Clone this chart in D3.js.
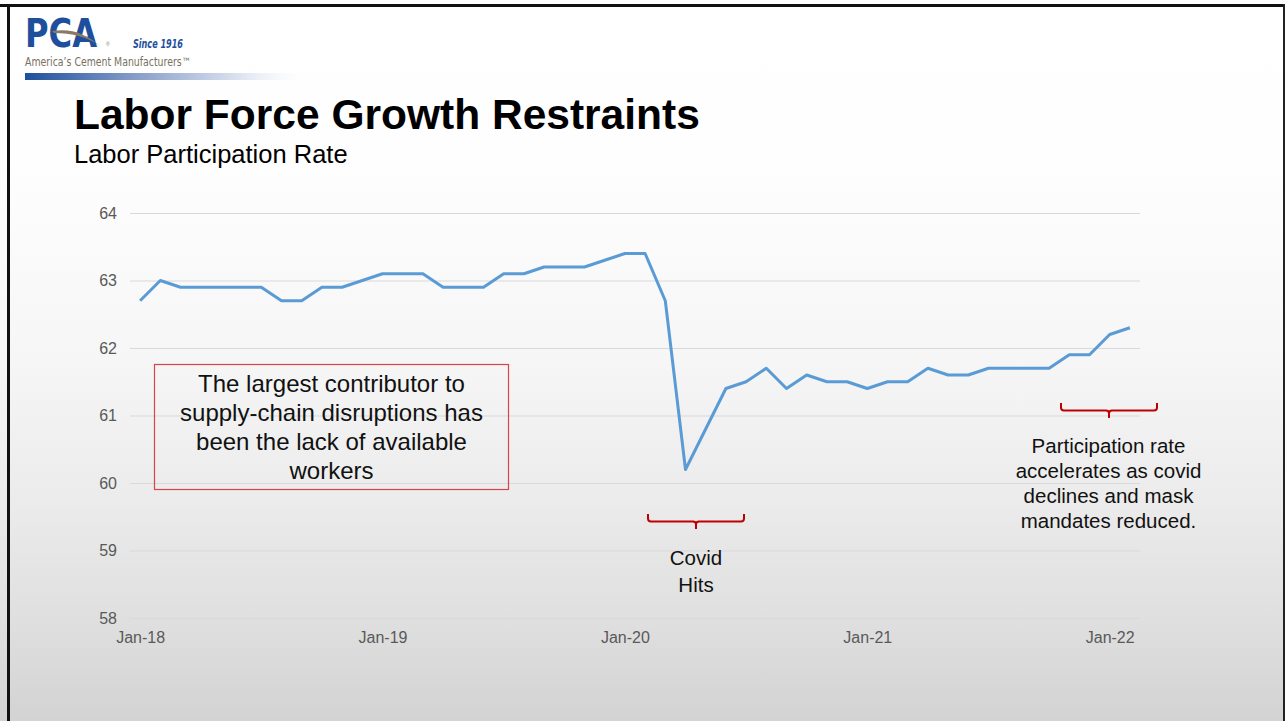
<!DOCTYPE html>
<html>
<head>
<meta charset="utf-8">
<script src="https://cdn.jsdelivr.net/npm/d3@7/dist/d3.min.js"></script>
<style>
  html, body { margin: 0; padding: 0; background: #ffffff; }
  svg { display: block; }
</style>
</head>
<body>
<svg id="slide" width="1285" height="721"></svg>
<script>
// Monthly labor force participation rate, Jan 2018 – Feb 2022 (%)
const months = [
  "Jan-18","Feb-18","Mar-18","Apr-18","May-18","Jun-18","Jul-18","Aug-18","Sep-18","Oct-18","Nov-18","Dec-18",
  "Jan-19","Feb-19","Mar-19","Apr-19","May-19","Jun-19","Jul-19","Aug-19","Sep-19","Oct-19","Nov-19","Dec-19",
  "Jan-20","Feb-20","Mar-20","Apr-20","May-20","Jun-20","Jul-20","Aug-20","Sep-20","Oct-20","Nov-20","Dec-20",
  "Jan-21","Feb-21","Mar-21","Apr-21","May-21","Jun-21","Jul-21","Aug-21","Sep-21","Oct-21","Nov-21","Dec-21",
  "Jan-22","Feb-22"
];
const participation = [
  62.7, 63.0, 62.9, 62.9, 62.9, 62.9, 62.9, 62.7, 62.7, 62.9, 62.9, 63.0,
  63.1, 63.1, 63.1, 62.9, 62.9, 62.9, 63.1, 63.1, 63.2, 63.2, 63.2, 63.3,
  63.4, 63.4, 62.7, 60.2, 60.8, 61.4, 61.5, 61.7, 61.4, 61.6, 61.5, 61.5,
  61.4, 61.5, 61.5, 61.7, 61.6, 61.6, 61.7, 61.7, 61.7, 61.7, 61.9, 61.9,
  62.2, 62.3
];
const xTickLabels = ["Jan-18","Jan-19","Jan-20","Jan-21","Jan-22"];
const yTicks = [58, 59, 60, 61, 62, 63, 64];

const title = "Labor Force Growth Restraints";
const subtitle = "Labor Participation Rate";
const boxNote = ["The largest contributor to", "supply-chain disruptions has", "been the lack of available", "workers"];
const covidNote = ["Covid", "Hits"];
const recoveryNote = ["Participation rate", "accelerates as covid", "declines and mask", "mandates reduced."];

const svg = d3.select("#slide");
const W = 1285, H = 721;
const font = "'Liberation Sans', Arial, Helvetica, sans-serif";
const narrow = "'Liberation Sans Narrow', 'DejaVu Sans Condensed', 'Liberation Sans', Arial, sans-serif";

// ---- background & frame ----
const defs = svg.append("defs");
const bg = defs.append("linearGradient").attr("id", "bgGrad").attr("x1", 0).attr("y1", 0).attr("x2", 0).attr("y2", 1);
[[0, "#ffffff"], [0.22, "#fefefe"], [0.5, "#f6f6f6"], [0.7, "#ebebeb"], [0.85, "#e0e0e0"], [1, "#d3d3d3"]]
  .forEach(([o, c]) => bg.append("stop").attr("offset", o).attr("stop-color", c));
svg.append("rect").attr("width", W).attr("height", H).attr("fill", "url(#bgGrad)");

svg.append("rect").attr("x", 0).attr("y", 4).attr("width", W).attr("height", 3).attr("fill", "#111");
svg.append("rect").attr("x", 7).attr("y", 4).attr("width", 3).attr("height", H - 4).attr("fill", "#111");
svg.append("rect").attr("x", W - 2).attr("y", 4).attr("width", 2).attr("height", H - 4).attr("fill", "#222");

// ---- logo block ----
const logoBar = defs.append("linearGradient").attr("id", "logoBar");
logoBar.append("stop").attr("offset", 0).attr("stop-color", "#1d4f9c");
logoBar.append("stop").attr("offset", 0.35).attr("stop-color", "#7f97c6");
logoBar.append("stop").attr("offset", 0.75).attr("stop-color", "#dfe5f1");
logoBar.append("stop").attr("offset", 1).attr("stop-color", "#ffffff").attr("stop-opacity", 0);
svg.append("rect").attr("x", 25).attr("y", 73).attr("width", 290).attr("height", 7).attr("fill", "url(#logoBar)");

svg.append("text").attr("x", 25).attr("y", 46.5)
  .attr("font-family", narrow).attr("font-weight", "bold").attr("font-size", 39)
  .attr("fill", "#1d4f9c").attr("textLength", 72).attr("lengthAdjust", "spacingAndGlyphs")
  .text("PCA");
svg.append("path")
  .attr("d", "M52,31 C72,28 86,34 100,46 C88,37 72,33 54,33 Z")
  .attr("fill", "#8a7a64");
svg.append("text").attr("x", 106).attr("y", 46).attr("font-family", font).attr("font-size", 5)
  .attr("fill", "#8a7a64").text("®");
svg.append("text").attr("x", 133).attr("y", 47.5)
  .attr("font-family", narrow).attr("font-weight", "bold").attr("font-style", "italic").attr("font-size", 13)
  .attr("fill", "#1d4f9c").attr("textLength", 50).attr("lengthAdjust", "spacingAndGlyphs")
  .text("Since 1916");
svg.append("text").attr("x", 25).attr("y", 65.5)
  .attr("font-family", narrow).attr("font-size", 11.5)
  .attr("fill", "#7a7062").attr("textLength", 166).attr("lengthAdjust", "spacingAndGlyphs")
  .text("America’s Cement Manufacturers™");

// ---- headings ----
svg.append("text").attr("x", 74).attr("y", 129)
  .attr("font-family", font).attr("font-weight", "bold").attr("font-size", 42.5).attr("fill", "#000")
  .text(title);
svg.append("text").attr("x", 74).attr("y", 163)
  .attr("font-family", font).attr("font-size", 25.5).attr("fill", "#000")
  .text(subtitle);

// ---- chart ----
const plot = { left: 130, right: 1140, top: 213, bottom: 618 };
const x = d3.scalePoint().domain(months).range([plot.left, plot.right]).padding(0.5);
const y = d3.scaleLinear().domain([58, 64]).range([plot.bottom, plot.top]);

// gridlines
svg.append("g")
  .attr("transform", `translate(${plot.left},0)`)
  .call(d3.axisLeft(y).tickValues(yTicks).tickSize(-(plot.right - plot.left)).tickFormat(""))
  .call(g => g.select(".domain").remove())
  .call(g => g.selectAll("line").attr("stroke", "#d9d9d9").attr("stroke-width", 1));

// y tick labels
svg.append("g")
  .attr("transform", `translate(117,0)`)
  .call(d3.axisLeft(y).tickValues(yTicks).tickSize(0).tickPadding(0).tickFormat(d3.format("d")))
  .call(g => g.select(".domain").remove())
  .call(g => g.selectAll("text").attr("font-family", font).attr("font-size", 16).attr("fill", "#595959"));

// x tick labels
svg.append("g")
  .attr("transform", `translate(0,${plot.bottom + 14})`)
  .call(d3.axisBottom(x).tickValues(xTickLabels).tickSize(0).tickPadding(0))
  .call(g => g.select(".domain").remove())
  .call(g => g.selectAll("text").attr("font-family", font).attr("font-size", 16).attr("fill", "#595959"));

// series line
const line = d3.line().x((d, i) => x(months[i])).y(d => y(d));
svg.append("path")
  .datum(participation)
  .attr("d", line)
  .attr("fill", "none")
  .attr("stroke", "#5b9bd5")
  .attr("stroke-width", 3)
  .attr("stroke-linejoin", "round");

// ---- annotations ----
svg.append("rect").attr("x", 154.5).attr("y", 364.5).attr("width", 354).attr("height", 125)
  .attr("fill", "none").attr("stroke", "#d9434a").attr("stroke-width", 1.2);
svg.append("g").selectAll("text").data(boxNote).join("text")
  .attr("x", 331.5).attr("y", (d, i) => 391.5 + i * 29)
  .attr("text-anchor", "middle").attr("font-family", font).attr("font-size", 24).attr("fill", "#111")
  .text(d => d);

function brace(x1, x2, top, mid, tip) {
  const c = (x1 + x2) / 2, r = 3;
  return `M${x1},${top} V${mid - r} Q${x1},${mid} ${x1 + r},${mid} H${c - r} Q${c},${mid} ${c},${mid + r} V${tip}` +
         ` M${c},${mid + r} Q${c},${mid} ${c + r},${mid} H${x2 - r} Q${x2},${mid} ${x2},${mid - r} V${top}`;
}
svg.append("path").attr("d", brace(648, 744, 514, 521.5, 529))
  .attr("fill", "none").attr("stroke", "#c00000").attr("stroke-width", 2);
svg.append("path").attr("d", brace(1061, 1157, 403, 410.5, 418))
  .attr("fill", "none").attr("stroke", "#c00000").attr("stroke-width", 2);

svg.append("g").selectAll("text").data(covidNote).join("text")
  .attr("x", 696).attr("y", (d, i) => 565 + i * 26.5)
  .attr("text-anchor", "middle").attr("font-family", font).attr("font-size", 20.5).attr("fill", "#111")
  .text(d => d);
svg.append("g").selectAll("text").data(recoveryNote).join("text")
  .attr("x", 1108.5).attr("y", (d, i) => 453 + i * 25)
  .attr("text-anchor", "middle").attr("font-family", font).attr("font-size", 20.5).attr("fill", "#111")
  .text(d => d);
</script>
</body>
</html>
